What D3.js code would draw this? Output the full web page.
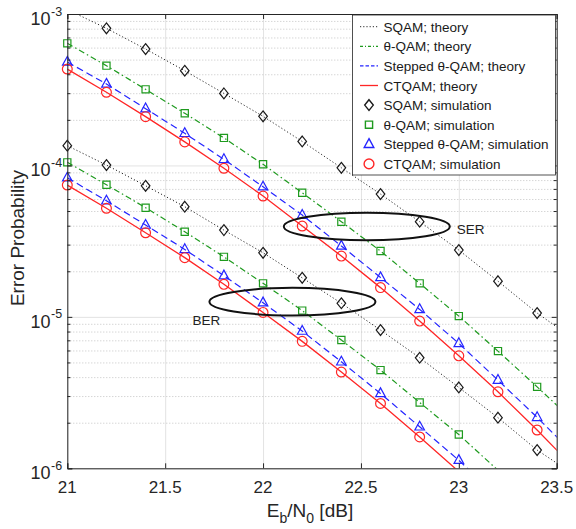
<!DOCTYPE html>
<html>
<head>
<meta charset="utf-8">
<script src="https://cdn.jsdelivr.net/npm/d3@7"></script>
<style>
  html, body { margin: 0; padding: 0; background: #fff; }
  svg { display: block; font-family: "Liberation Sans", Arial, sans-serif; }
</style>
</head>
<body>
<svg id="chart" width="576" height="529"></svg>
<script>
// Eb/N0 grid (dB): theory curves run a little past the axis edge, simulations stop at 23.4
const snrTheory = [21.0, 21.2, 21.4, 21.6, 21.8, 22.0, 22.2, 22.4, 22.6, 22.8, 23.0, 23.2, 23.4, 23.6];
const snrSim    = [21.0, 21.2, 21.4, 21.6, 21.8, 22.0, 22.2, 22.4, 22.6, 22.8, 23.0, 23.2, 23.4];

// Symbol error rate
const serSQAM    = [1.07e-3, 8.04e-4, 5.87e-4, 4.22e-4, 2.99e-4, 2.11e-4, 1.44e-4, 9.65e-5, 6.47e-5, 4.25e-5, 2.76e-5, 1.72e-5, 1.06e-5, 6.95e-6];
const serThetaQAM = [6.40e-4, 4.56e-4, 3.18e-4, 2.21e-4, 1.52e-4, 1.017e-4, 6.60e-5, 4.25e-5, 2.72e-5, 1.665e-5, 1.012e-5, 5.94e-6, 3.45e-6, 1.98e-6];
const serStepped = [4.82e-4, 3.45e-4, 2.37e-4, 1.63e-4, 1.097e-4, 7.23e-5, 4.70e-5, 2.94e-5, 1.82e-5, 1.12e-5, 6.68e-6, 3.82e-6, 2.17e-6, 1.20e-6];
const serCTQAM   = [4.33e-4, 3.04e-4, 2.10e-4, 1.43e-4, 9.57e-5, 6.28e-5, 3.98e-5, 2.52e-5, 1.56e-5, 9.38e-6, 5.53e-6, 3.20e-6, 1.79e-6, 9.73e-7];

// Bit error rate
const berSQAM    = [1.35e-4, 1.006e-4, 7.34e-5, 5.34e-5, 3.74e-5, 2.65e-5, 1.81e-5, 1.23e-5, 8.18e-6, 5.37e-6, 3.42e-6, 2.16e-6, 1.32e-6, 8.88e-7];
const berThetaQAM = [1.048e-4, 7.46e-5, 5.26e-5, 3.65e-5, 2.49e-5, 1.665e-5, 1.10e-5, 7.03e-6, 4.45e-6, 2.72e-6, 1.67e-6, 9.7e-7, 5.6e-7, 3.2e-7];
const berStepped = [8.29e-5, 5.84e-5, 4.04e-5, 2.79e-5, 1.87e-5, 1.24e-5, 8.06e-6, 5.05e-6, 3.12e-6, 1.88e-6, 1.13e-6, 6.45e-7, 3.7e-7, 2.1e-7];
const berCTQAM   = [7.42e-5, 5.21e-5, 3.59e-5, 2.46e-5, 1.64e-5, 1.07e-5, 6.89e-6, 4.32e-6, 2.68e-6, 1.61e-6, 9.51e-7, 5.6e-7, 3.2e-7, 1.8e-7];

// Axis ticks
const xTicks = [21, 21.5, 22, 22.5, 23, 23.5];
const xTickLabels = ["21", "21.5", "22", "22.5", "23", "23.5"];
const yDecades = [1e-3, 1e-4, 1e-5, 1e-6];
const yDecadeExponents = ["-3", "-4", "-5", "-6"];

// Legend entries
const legendLabels = [
  "SQAM; theory", "\u03b8-QAM; theory", "Stepped \u03b8-QAM; theory", "CTQAM; theory",
  "SQAM; simulation", "\u03b8-QAM; simulation", "Stepped \u03b8-QAM; simulation", "CTQAM; simulation"
];

// Highlighted groups (ellipse centre in data units)
const groupLabels = ["SER", "BER"];
const groupCenters = [[22.53, 3.95e-5], [22.15, 1.26e-5]];

// ---------------------------------------------------------------------------
const svg = d3.select("#chart");
const M = { left: 67.3, right: 556.7, top: 14, bottom: 468.3 };
const W = M.right - M.left, H = M.bottom - M.top;

const x = d3.scaleLinear().domain([21, 23.5]).range([M.left, M.right]);
const y = d3.scaleLog().domain([1e-6, 1e-3]).range([M.bottom, M.top]);

const axisColor = "#262626";

// Minor values for the log axis: 2..9 x 10^k
const minorVals = [];
[1e-6, 1e-5, 1e-4].forEach(d => { for (let m = 2; m <= 9; m++) minorVals.push(d * m); });

// Grid
svg.append("g")
  .attr("transform", `translate(0,${M.bottom})`)
  .call(d3.axisBottom(x).tickValues(xTicks).tickSize(-H).tickFormat(""))
  .call(g => g.select(".domain").remove())
  .call(g => g.selectAll("line").attr("stroke", "#e3e3e3").attr("stroke-width", 1));

svg.append("g")
  .attr("transform", `translate(${M.left},0)`)
  .call(d3.axisLeft(y).tickValues(minorVals).tickSize(-W).tickFormat(""))
  .call(g => g.select(".domain").remove())
  .call(g => g.selectAll("line").attr("stroke", "#c4c4c4").attr("stroke-width", 1).attr("stroke-dasharray", "1,2"));

svg.append("g")
  .attr("transform", `translate(${M.left},0)`)
  .call(d3.axisLeft(y).tickValues(yDecades).tickSize(-W).tickFormat(""))
  .call(g => g.select(".domain").remove())
  .call(g => g.selectAll("line").attr("stroke", "#e3e3e3").attr("stroke-width", 1));

// Clip area for data
svg.append("defs").append("clipPath").attr("id", "plotClip")
  .append("rect").attr("x", M.left).attr("y", M.top).attr("width", W).attr("height", H);

const series = [
  { ser: serSQAM, ber: berSQAM, color: "#2b2b2b", dash: "1.2,2.2", width: 1.0, marker: "diamond" },
  { ser: serThetaQAM, ber: berThetaQAM, color: "#1e9a1e", dash: "6,3,1.5,3", width: 1.2, marker: "square" },
  { ser: serStepped, ber: berStepped, color: "#2424ff", dash: "7,4", width: 1.2, marker: "triangle" },
  { ser: serCTQAM, ber: berCTQAM, color: "#ff2626", dash: null, width: 1.3, marker: "circle" }
];

const markerPath = {
  diamond: "M0,-5.4L4.3,0L0,5.4L-4.3,0Z",
  square: "M-3.6,-3.6H3.6V3.6H-3.6Z",
  triangle: "M0,-5.6L4.8,3.2H-4.8Z",
  circle: d3.symbol(d3.symbolCircle, Math.PI * 4.9 * 4.9)()
};

const line = d3.line().x(d => x(d[0])).y(d => y(d[1]));
const plot = svg.append("g").attr("clip-path", "url(#plotClip)");

series.forEach(s => {
  ["ser", "ber"].forEach(k => {
    const pts = snrTheory.map((v, i) => [v, s[k][i]]);
    plot.append("path")
      .attr("d", line(pts))
      .attr("fill", "none")
      .attr("stroke", s.color)
      .attr("stroke-width", s.width)
      .attr("stroke-dasharray", s.dash);
  });
});

series.forEach(s => {
  ["ser", "ber"].forEach(k => {
    const pts = snrSim.map((v, i) => [v, s[k][i]])
      .filter(d => d[1] >= 1e-6 && d[1] <= 1e-3);
    svg.append("g").selectAll("path").data(pts).join("path")
      .attr("transform", d => `translate(${x(d[0])},${y(d[1])})`)
      .attr("d", markerPath[s.marker])
      .attr("fill", "none")
      .attr("stroke", s.marker === "diamond" ? "#1a1a1a" : s.color)
      .attr("stroke-width", 1.2);
  });
});

// Ellipses grouping SER and BER curves
groupCenters.forEach(c => {
  svg.append("ellipse")
    .attr("cx", x(c[0])).attr("cy", y(c[1]))
    .attr("rx", 83).attr("ry", 13.8)
    .attr("fill", "none").attr("stroke", "#111").attr("stroke-width", 2);
});
svg.append("text").attr("x", x(groupCenters[0][0]) + 90).attr("y", y(groupCenters[0][1]) + 7)
  .attr("font-size", 13.5).attr("fill", "#222").text(groupLabels[0]);
svg.append("text").attr("x", x(groupCenters[1][0]) - 100).attr("y", y(groupCenters[1][1]) + 23)
  .attr("font-size", 13.5).attr("fill", "#222").text(groupLabels[1]);

// Axes box with inward ticks
const tickLen = 5;
svg.append("g")
  .attr("transform", `translate(0,${M.bottom})`)
  .call(d3.axisBottom(x).tickValues(xTicks).tickSize(-tickLen).tickFormat(""))
  .call(g => g.select(".domain").attr("stroke", axisColor))
  .call(g => g.selectAll("line").attr("stroke", axisColor));
svg.append("g")
  .attr("transform", `translate(0,${M.top})`)
  .call(d3.axisTop(x).tickValues(xTicks).tickSize(-tickLen).tickFormat(""))
  .call(g => g.select(".domain").attr("stroke", axisColor))
  .call(g => g.selectAll("line").attr("stroke", axisColor));
svg.append("g")
  .attr("transform", `translate(${M.left},0)`)
  .call(d3.axisLeft(y).tickValues(yDecades).tickSize(-tickLen).tickFormat(""))
  .call(g => g.select(".domain").attr("stroke", axisColor))
  .call(g => g.selectAll("line").attr("stroke", axisColor));
svg.append("g")
  .attr("transform", `translate(${M.left},0)`)
  .call(d3.axisLeft(y).tickValues(minorVals).tickSize(-3).tickFormat(""))
  .call(g => g.select(".domain").remove())
  .call(g => g.selectAll("line").attr("stroke", axisColor));
svg.append("g")
  .attr("transform", `translate(${M.right},0)`)
  .call(d3.axisRight(y).tickValues(yDecades).tickSize(-tickLen).tickFormat(""))
  .call(g => g.select(".domain").attr("stroke", axisColor))
  .call(g => g.selectAll("line").attr("stroke", axisColor));
svg.append("g")
  .attr("transform", `translate(${M.right},0)`)
  .call(d3.axisRight(y).tickValues(minorVals).tickSize(-3).tickFormat(""))
  .call(g => g.select(".domain").remove())
  .call(g => g.selectAll("line").attr("stroke", axisColor));

// Tick labels
svg.append("g").selectAll("text").data(xTicks).join("text")
  .attr("x", d => x(d)).attr("y", M.bottom + 25)
  .attr("text-anchor", "middle").attr("font-size", 17).attr("fill", axisColor)
  .text((d, i) => xTickLabels[i]);

const yl = svg.append("g");
yl.selectAll("text.base").data(yDecades).join("text").attr("class", "base")
  .attr("x", 50.5).attr("y", d => y(d) + 11)
  .attr("text-anchor", "end").attr("font-size", 18).attr("fill", axisColor)
  .text("10");
yl.selectAll("text.exp").data(yDecades).join("text").attr("class", "exp")
  .attr("x", 51).attr("y", d => y(d) + 1.5)
  .attr("text-anchor", "start").attr("font-size", 12.5).attr("fill", axisColor)
  .text((d, i) => yDecadeExponents[i]);

// Axis titles
svg.append("text")
  .attr("transform", `translate(24,238) rotate(-90)`)
  .attr("text-anchor", "middle").attr("font-size", 19).attr("fill", axisColor)
  .text("Error Probability");

const xt = svg.append("text")
  .attr("x", 310).attr("y", 517)
  .attr("text-anchor", "middle").attr("font-size", 19).attr("fill", axisColor);
xt.append("tspan").text("E");
xt.append("tspan").attr("font-size", 14).attr("dy", 6).text("b");
xt.append("tspan").attr("dy", -6).text("/N");
xt.append("tspan").attr("font-size", 14).attr("dy", 6).text("0");
xt.append("tspan").attr("dy", -6).text(" [dB]");

// Legend
const lg = svg.append("g").attr("transform", "translate(352.5,15)");
lg.append("rect").attr("width", 203).attr("height", 160)
  .attr("fill", "#fff").attr("stroke", axisColor).attr("stroke-width", 0.8);
legendLabels.forEach((lab, i) => {
  const s = series[i % 4];
  const cy = 11.7 + i * 19.6;
  if (i < 4) {
    lg.append("line").attr("x1", 7.5).attr("x2", 25.5).attr("y1", cy).attr("y2", cy)
      .attr("stroke", s.color).attr("stroke-width", s.width)
      .attr("stroke-dasharray", s.marker === "diamond" ? "1.2,2" : s.marker === "square" ? "3,2,1,2" : s.marker === "triangle" ? "3.5,2" : null);
  } else {
    lg.append("path").attr("transform", `translate(16.5,${cy})`)
      .attr("d", markerPath[s.marker]).attr("fill", "none")
      .attr("stroke", s.marker === "diamond" ? "#1a1a1a" : s.color).attr("stroke-width", 1.4);
  }
  lg.append("text").attr("x", 31).attr("y", cy + 5)
    .attr("font-size", 13.5).attr("fill", "#1a1a1a").text(lab);
});
</script>
</body>
</html>
